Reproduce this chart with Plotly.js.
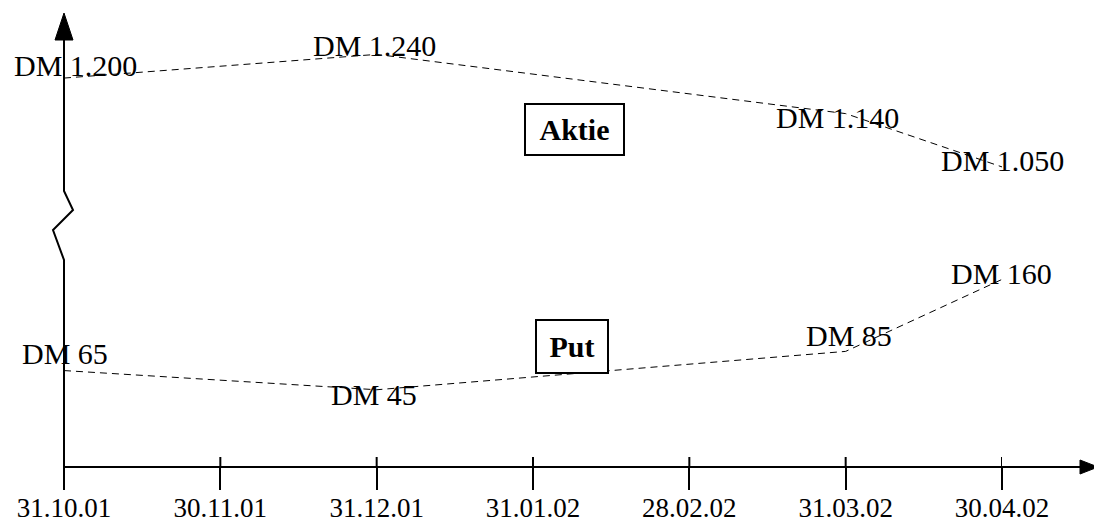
<!DOCTYPE html>
<html><head><meta charset="utf-8">
<script src="https://cdn.plot.ly/plotly-3.0.1.min.js"></script>
<style>html,body{margin:0;padding:0;background:#fff;}#chart{width:1094px;height:523px;}</style>
</head><body><div id="chart"></div>
<script>
// ---- data ----
const categories = ['31.10.01','30.11.01','31.12.01','31.01.02','28.02.02','31.03.02','30.04.02'];
const seriesNames = ['Aktie','Put'];
const aktieDates = ['31.10.01','31.12.01','31.03.02','30.04.02'];
const aktieValues = [1200, 1240, 1140, 1050];
const aktieLabels = ['DM 1.200','DM 1.240','DM 1.140','DM 1.050'];
const putDates = ['31.10.01','31.12.01','31.03.02','30.04.02'];
const putValues = [65, 45, 85, 160];
const putLabels = ['DM 65','DM 45','DM 85','DM 160'];

// ---- layout helpers (pixel -> paper) ----
const L = 64, W = 938, T = 0, H = 467;
const px = x => (x - L) / W;
const py = y => (T + H - y) / H;
const FONT = 'Liberation Serif, Times New Roman, serif';

// label offsets (style)
const aktieShift = [[11,13],[-2,9],[-8,-4],[0,6]];
const putShift = [[1,17],[-3,-5],[3,16],[-1,6]];

const lineStyle = {color:'#000', width:1, dash:'7px,5px'};
const traces = [
  {x: aktieDates, y: aktieValues, name: seriesNames[0], mode:'lines', line: lineStyle, xaxis:'x', yaxis:'y', hoverinfo:'skip', cliponaxis:false},
  {x: putDates, y: putValues, name: seriesNames[1], mode:'lines', line: lineStyle, xaxis:'x', yaxis:'y2', hoverinfo:'skip', cliponaxis:false}
];

const annotations = [];
aktieDates.forEach((d,i) => annotations.push({
  xref:'x', yref:'y', x: categories.indexOf(d), y: aktieValues[i], text: aktieLabels[i],
  showarrow:false, xanchor:'center', yanchor:'middle', xshift: aktieShift[i][0], yshift: aktieShift[i][1],
  font:{family:FONT, size:30, color:'#000'}
}));
putDates.forEach((d,i) => annotations.push({
  xref:'x', yref:'y2', x: categories.indexOf(d), y: putValues[i], text: putLabels[i],
  showarrow:false, xanchor:'center', yanchor:'middle', xshift: putShift[i][0], yshift: putShift[i][1],
  font:{family:FONT, size:30, color:'#000'}
}));
annotations.push({xref:'paper', yref:'paper', x: px(574.5), y: py(129.5), text:'<b>'+seriesNames[0]+'</b>',
  showarrow:false, xanchor:'center', yanchor:'middle', width:97, height:49, borderpad:0,
  bordercolor:'#000', borderwidth:2, bgcolor:'#fff', font:{family:FONT, size:30, color:'#000'}});
annotations.push({xref:'paper', yref:'paper', x: px(572), y: py(346.5), text:'<b>'+seriesNames[1]+'</b>',
  showarrow:false, xanchor:'center', yanchor:'middle', width:70, height:51, borderpad:0,
  bordercolor:'#000', borderwidth:2, bgcolor:'#fff', font:{family:FONT, size:30, color:'#000'}});

const shapes = [];
// y-axis with break
shapes.push({type:'path', xref:'paper', yref:'paper', line:{color:'#000', width:2},
  path:`M ${px(64)},${py(489)} L ${px(64)},${py(260)} L ${px(53)},${py(230)} L ${px(73)},${py(210)} L ${px(64)},${py(191)} L ${px(64)},${py(38)}`});
shapes.push({type:'path', xref:'paper', yref:'paper', line:{color:'#000', width:1}, fillcolor:'#000',
  path:`M ${px(64)},${py(13)} L ${px(55)},${py(40)} L ${px(73)},${py(40)} Z`});
// x-axis with arrow
shapes.push({type:'line', xref:'paper', yref:'paper', x0:px(64), x1:px(1082), y0:py(467), y1:py(467), line:{color:'#000', width:2}});
shapes.push({type:'path', xref:'paper', yref:'paper', line:{color:'#000', width:1}, fillcolor:'#000',
  path:`M ${px(1080)},${py(460)} L ${px(1080)},${py(474)} L ${px(1098)},${py(467)} Z`});
// upper part of tick marks
categories.forEach((c,i) => shapes.push({type:'line', xref:'x', yref:'paper', x0:i, x1:i, y0:py(467), y1:py(457), line:{color:'#000', width:2}}));

const layout = {
  width:1094, height:523,
  margin:{l:L, r:1094-L-W, t:T, b:523-T-H, pad:0},
  paper_bgcolor:'#fff', plot_bgcolor:'#fff',
  showlegend:false,
  xaxis:{type:'category', categoryorder:'array', categoryarray:categories, range:[0,6],
    showgrid:false, zeroline:false, showline:false, ticks:'outside', ticklen:22, tickwidth:2, tickcolor:'#000',
    ticklabelstandoff:-5,
    tickfont:{family:FONT, size:27, color:'#000'}, automargin:false, fixedrange:true},
  yaxis:{visible:false, range:[543.4, 1331.8], fixedrange:true},
  yaxis2:{visible:false, overlaying:'y', range:[-35.5, 451.2], fixedrange:true},
  annotations, shapes
};
Plotly.newPlot('chart', traces, layout, {displayModeBar:false, staticPlot:true});
</script>
</body></html>
